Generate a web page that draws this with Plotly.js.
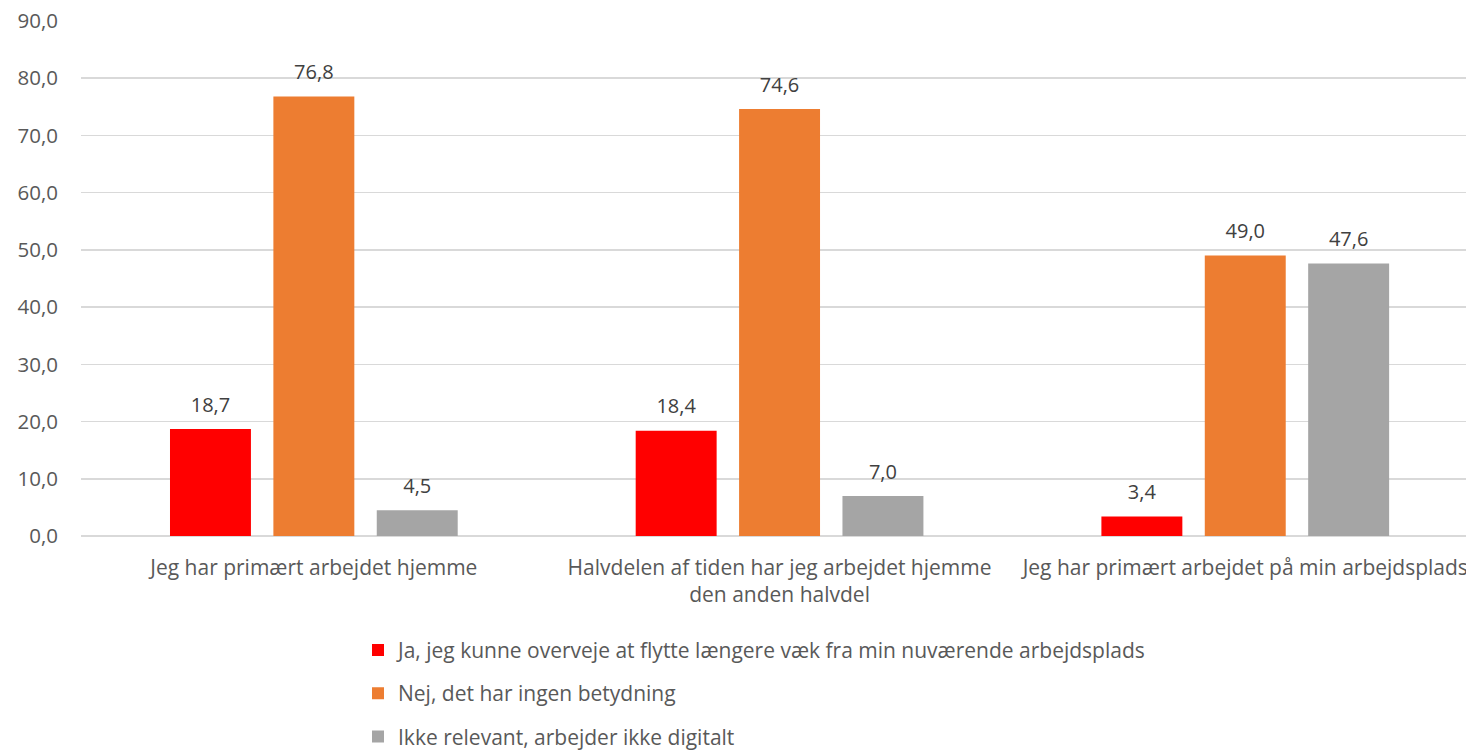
<!DOCTYPE html>
<html>
<head>
<meta charset="utf-8">
<script src="https://cdn.plot.ly/plotly-3.0.1.min.js"></script>
<style>html,body{margin:0;padding:0;background:#fff;overflow:hidden}#chart{width:1466px;height:751px}</style>
</head>
<body>
<div id="chart"></div>
<script>
const categories = [
  "Jeg har primært arbejdet hjemme",
  "Halvdelen af tiden har jeg arbejdet hjemme<br>den anden halvdel",
  "Jeg har primært arbejdet på min arbejdsplads"
];
const seriesNames = [
  "Ja, jeg kunne overveje at flytte længere væk fra min nuværende arbejdsplads",
  "Nej, det har ingen betydning",
  "Ikke relevant, arbejder ikke digitalt"
];
const jaValues = [18.7, 18.4, 3.4];
const nejValues = [76.8, 74.6, 49.0];
const ikkeValues = [4.5, 7.0, 47.6];
const colors = ["#FF0000", "#ED7D31", "#A5A5A5"];
const FONT = "Open Sans, Liberation Sans, sans-serif";
const BARGAP = 0.334;

const allValues = [jaValues, nejValues, ikkeValues];
const barTraces = allValues.map((vals, i) => ({
  type: "bar",
  name: seriesNames[i],
  x: categories,
  y: vals,
  marker: {color: colors[i]},
  legendgroup: "g" + i,
  offsetgroup: "s" + i,
  hoverinfo: "x+y+name"
}));
const labelTraces = allValues.map((vals, i) => ({
  type: "scatter",
  mode: "markers+text",
  x: categories,
  y: vals,
  offsetgroup: "s" + i,
  texttemplate: "%{y:.1f}",
  textposition: "top center",
  textfont: {family: FONT, size: 20, color: "#404040"},
  marker: {size: 18, color: "rgba(0,0,0,0)"},
  cliponaxis: false,
  showlegend: false,
  hoverinfo: "skip"
}));

const layout = {
  width: 1466, height: 751,
  margin: {l: 81, r: 0, t: 21, b: 214.5, autoexpand: false},
  paper_bgcolor: "#fff", plot_bgcolor: "#fff",
  separators: ",.",
  barmode: "group",
  bargap: BARGAP,
  bargroupgap: 0.217,
  scattermode: "group",
  scattergap: BARGAP,
  font: {family: FONT, color: "#595959", size: 20},
  xaxis: {
    type: "category",
    range: [-0.5, 2.474],
    showgrid: false,
    showline: false,
    ticks: "",
    ticklabelstandoff: 17,
    tickfont: {family: FONT, size: 21, color: "#595959"},
    automargin: false
  },
  yaxis: {
    range: [0, 90],
    dtick: 10,
    tickformat: ".1f",
    showgrid: true,
    gridcolor: "#D9D9D9",
    gridwidth: 1.5,
    zeroline: true,
    zerolinecolor: "#D9D9D9",
    zerolinewidth: 1.5,
    showline: false,
    ticks: "",
    ticklabelstandoff: 22,
    tickfont: {family: FONT, size: 20.5, color: "#595959"},
    automargin: false,
    fixedrange: true
  },
  showlegend: true,
  legend: {
    orientation: "v",
    x: 0.2,
    xanchor: "left",
    y: -0.182,
    yanchor: "top",
    traceorder: "grouped",
    tracegroupgap: 13,
    font: {family: FONT, size: 21, color: "#595959"},
    itemwidth: 30,
    bgcolor: "rgba(0,0,0,0)"
  }
};

Plotly.newPlot("chart", barTraces.concat(labelTraces), layout, {displayModeBar: false, staticPlot: true});
</script>
</body>
</html>
